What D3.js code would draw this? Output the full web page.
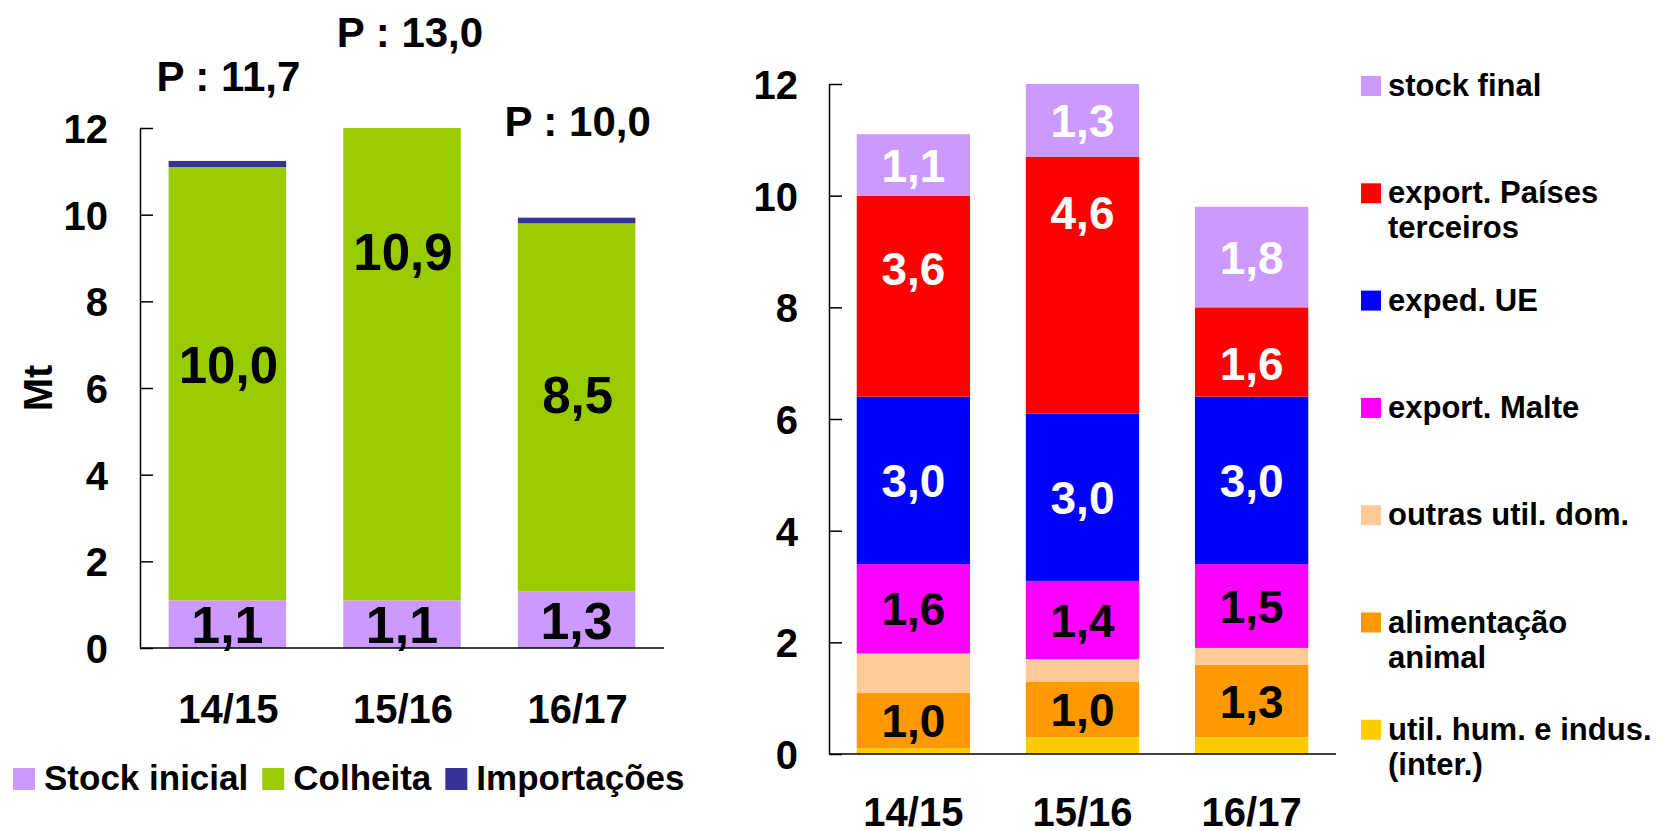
<!DOCTYPE html>
<html>
<head>
<meta charset="utf-8">
<script src="https://cdn.jsdelivr.net/npm/d3@7"></script>
<style>
    body {margin: 0; background: #fff;}
    svg text {font-family: "Liberation Sans", Arial, sans-serif; font-weight: bold;}
</style>
</head>
<body>
<div id="chart"></div>
<script>
// data
const seasons = ["14/15", "15/16", "16/17"];

// left chart - disponibilidades
const stockInicial = [1.1, 1.1, 1.3];
const colheita = [10.0, 10.9, 8.5];
const importacoes = [0.14, 0, 0.13];
const producao = [11.7, 13.0, 10.0];
const producaoLabelAt = [12.85, 13.88, 11.81];   // where the "P : x" labels sit (in Mt)
const colheitaLabelAt = [6.54, 9.15, 5.84];
const leftTicks = [0, 2, 4, 6, 8, 10, 12];
const leftKeys = ["Stock inicial", "Colheita", "Importações"];

// right chart - utilizações
const utilHum = [0.1, 0.3, 0.3];
const alimAnimal = [1.0, 1.0, 1.3];
const outrasUtil = [0.7, 0.4, 0.3];
const exportMalte = [1.6, 1.4, 1.5];
const expedUE = [3.0, 3.0, 3.0];
const exportPaises = [3.6, 4.6, 1.6];
const stockFinal = [1.1, 1.3, 1.8];
const exportPaisesLabelAt = [8.7, 9.7, 7.0];
const rightTicks = [0, 2, 4, 6, 8, 10, 12];
const rightKeys = ["util. hum. e indus. (inter.)", "alimentação animal", "outras util. dom.",
    "export. Malte", "exped. UE", "export. Países terceiros", "stock final"];
const rightLegendLines = [["util. hum. e indus.", "(inter.)"], ["alimentação", "animal"], ["outras util. dom."],
    ["export. Malte"], ["exped. UE"], ["export. Países", "terceiros"], ["stock final"]];

const fmt = v => d3.format(".1f")(v).replace(".", ",");

let svg = d3.select("#chart").append("svg")
    .attr("width", 1660)
    .attr("height", 831);

function addText(g, x, y, str, size, anchor, fill, dy) {
    return g.append("text")
        .attr("x", x)
        .attr("y", y)
        .attr("text-anchor", anchor || "middle")
        .attr("dy", dy || 0)
        .style("font-size", size + "px")
        .style("fill", fill || "#000")
        .text(str);
}

//===== Left chart
let xL = d3.scaleBand().domain(seasons).range([140, 664]).paddingInner(0.327).paddingOuter(0.164);
let yL = d3.scaleLinear().domain([0, 12]).range([648, 128]);
let colorL = d3.scaleOrdinal().domain(leftKeys).range(["#CC99FF", "#99CC00", "#333399"]);

let leftRows = seasons.map((s, i) => ({season: s, "Stock inicial": stockInicial[i], "Colheita": colheita[i], "Importações": importacoes[i]}));
let leftStack = d3.stack().keys(leftKeys)(leftRows);

let gL = svg.append("g");

gL.selectAll(".serie")
    .data(leftStack)
    .enter().append("g")
    .attr("class", "serie")
    .style("fill", d => colorL(d.key))
    .selectAll("rect")
    .data(d => d)
    .enter().append("rect")
    .attr("x", d => xL(d.data.season))
    .attr("width", xL.bandwidth())
    .attr("y", d => yL(d[1]))
    .attr("height", d => yL(d[0]) - yL(d[1]));

let axL = gL.append("g")
    .attr("transform", "translate(140,0)")
    .call(d3.axisLeft(yL).tickValues(leftTicks).tickFormat(d3.format("d")).tickSizeInner(-13).tickSizeOuter(0).tickPadding(32));
axL.select(".domain").attr("stroke", "#000").attr("stroke-width", 1.5);
axL.selectAll(".tick line").attr("stroke", "#000").attr("stroke-width", 1.5);
axL.selectAll(".tick text")
    .attr("dy", "0.36em")
    .style("font-size", "40px")
    .style("fill", "#000")
    .style("font-family", "\"Liberation Sans\", Arial, sans-serif");

gL.append("line")
    .attr("x1", 140).attr("x2", 664)
    .attr("y1", yL(0)).attr("y2", yL(0))
    .attr("stroke", "#000").attr("stroke-width", 1.5);

seasons.forEach((s, i) => {
    let cx = xL(s) + xL.bandwidth() / 2;
    addText(gL, cx, yL(stockInicial[i] / 2), fmt(stockInicial[i]), 52, "middle", "#000", "0.36em");
    addText(gL, cx + 1, yL(colheitaLabelAt[i]), fmt(colheita[i]), 51, "middle", "#000", "0.36em");
    addText(gL, cx + (i === 1 ? 8 : 1), yL(producaoLabelAt[i]), "P : " + fmt(producao[i]), 42, "middle", "#000");
    addText(gL, cx + 1, 723, s, 40, "middle", "#000");
});

addText(gL, 0, 0, "Mt", 40, "middle", "#000")
    .attr("transform", "translate(52,388) rotate(-90)");

// left legend
let lx = 13;
leftKeys.forEach(k => {
    gL.append("rect")
        .attr("x", lx).attr("y", 768)
        .attr("width", 22).attr("height", 22)
        .style("fill", colorL(k));
    let t = addText(gL, lx + 31, 790, k, 35, "start", "#000");
    lx += 31 + t.node().getComputedTextLength() + 14;
});

//===== Right chart
let xR = d3.scaleBand().domain(seasons).range([829, 1336]).paddingInner(0.33).paddingOuter(0.164);
let yR = d3.scaleLinear().domain([0, 12]).range([754, 84]);
let colorR = d3.scaleOrdinal().domain(rightKeys)
    .range(["#FFCC00", "#FF9900", "#FFCC99", "#FF00FF", "#0000FF", "#FF0000", "#CC99FF"]);
let labelColor = {"alimentação animal": "#000", "export. Malte": "#000", "exped. UE": "#fff",
    "export. Países terceiros": "#fff", "stock final": "#fff"};

let rightSeries = [utilHum, alimAnimal, outrasUtil, exportMalte, expedUE, exportPaises, stockFinal];
let rightRows = seasons.map((s, i) => {
    let row = {season: s};
    rightKeys.forEach((k, j) => row[k] = rightSeries[j][i]);
    return row;
});
let rightStack = d3.stack().keys(rightKeys)(rightRows);

let gR = svg.append("g");

gR.selectAll(".serie")
    .data(rightStack)
    .enter().append("g")
    .attr("class", "serie")
    .style("fill", d => colorR(d.key))
    .selectAll("rect")
    .data(d => d)
    .enter().append("rect")
    .attr("x", d => xR(d.data.season))
    .attr("width", xR.bandwidth())
    .attr("y", d => yR(d[1]))
    .attr("height", d => yR(d[0]) - yR(d[1]));

let axR = gR.append("g")
    .attr("transform", "translate(829,0)")
    .call(d3.axisLeft(yR).tickValues(rightTicks).tickFormat(d3.format("d")).tickSizeInner(-13).tickSizeOuter(0).tickPadding(31));
axR.select(".domain").attr("stroke", "#000").attr("stroke-width", 1.5);
axR.selectAll(".tick line").attr("stroke", "#000").attr("stroke-width", 1.5);
axR.selectAll(".tick text")
    .attr("dy", "0.36em")
    .style("font-size", "40px")
    .style("fill", "#000")
    .style("font-family", "\"Liberation Sans\", Arial, sans-serif");

gR.append("line")
    .attr("x1", 829).attr("x2", 1336)
    .attr("y1", yR(0)).attr("y2", yR(0))
    .attr("stroke", "#000").attr("stroke-width", 1.5);

//Text inside rectangles
rightStack.forEach(serie => {
    if (!labelColor[serie.key]) return;
    serie.forEach((d, i) => {
        let cx = xR(d.data.season) + xR.bandwidth() / 2;
        let at = serie.key === "export. Países terceiros" ? exportPaisesLabelAt[i] : (d[0] + d[1]) / 2;
        addText(gR, cx, yR(at), fmt(d[1] - d[0]), 46, "middle", labelColor[serie.key], "0.36em");
    });
});

seasons.forEach(s => {
    addText(gR, xR(s) + xR.bandwidth() / 2, 826, s, 40, "middle", "#000");
});

// right legend, top to bottom
let legendOrder = rightKeys.slice().reverse();
let legendLines = rightLegendLines.slice().reverse();
legendOrder.forEach((k, i) => {
    let top = 76 + i * 107.3;
    gR.append("rect")
        .attr("x", 1361).attr("y", top)
        .attr("width", 20).attr("height", 20)
        .style("fill", colorR(k));
    legendLines[i].forEach((line, j) => {
        addText(gR, 1388, top + 20 + j * 35, line, 31, "start", "#000");
    });
});
</script>
</body>
</html>
